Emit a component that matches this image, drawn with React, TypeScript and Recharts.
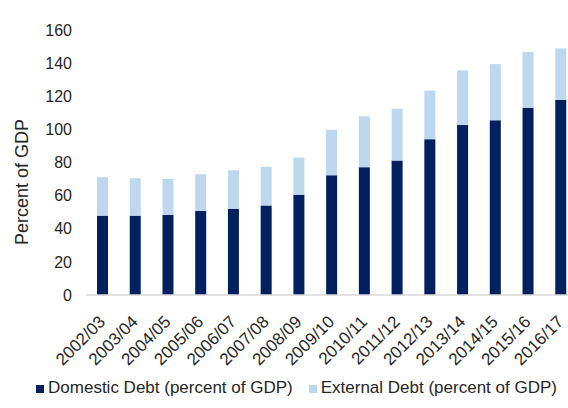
import { Bar, BarChart, Legend, XAxis, YAxis } from 'recharts'

// Debt stock, percent of GDP, by fiscal year.
const years = [
  '2002/03', '2003/04', '2004/05', '2005/06', '2006/07', '2007/08', '2008/09', '2009/10',
  '2010/11', '2011/12', '2012/13', '2013/14', '2014/15', '2015/16', '2016/17',
]
const domestic = [47.9, 47.9, 48.3, 50.7, 52.1, 54.1, 60.6, 72.3, 77.2, 81.2, 94.1, 102.6, 105.5, 113.1, 117.8]
const external = [23.2, 22.6, 21.8, 22.2, 23.2, 23.3, 22.4, 27.5, 30.7, 31.3, 29.3, 33.0, 33.9, 33.6, 31.1]
const yTicks = [0, 20, 40, 60, 80, 100, 120, 140, 160]

const data = years.map((year, i) => ({ year, domestic: domestic[i], external: external[i] }))

const FONT = '"Liberation Sans", Arial, sans-serif'
const NAVY = '#002060'
const LIGHT = '#BDD7EE'
const TEXT = '#262626'

function YearTick({ x, y, payload }: any) {
  const px = x
  const py = y + 16
  return (
    <text
      x={px}
      y={py}
      transform={`rotate(-45, ${px}, ${py})`}
      textAnchor="end"
      dominantBaseline="central"
      fontSize={17}
      fill={TEXT}
      fontFamily={FONT}
    >
      {payload.value}
    </text>
  )
}

function AxisTitle() {
  return (
    <text
      x={22}
      y={182}
      transform="rotate(-90, 22, 182)"
      textAnchor="middle"
      dominantBaseline="central"
      fontSize={18}
      fill={TEXT}
      fontFamily={FONT}
    >
      Percent of GDP
    </text>
  )
}

export default function App() {
  return (
    <div style={{ position: 'fixed', top: 0, left: 0, width: 568, height: 408, overflow: 'hidden', background: '#fff' }}>
      <BarChart
        width={600}
        height={408}
        data={data}
        barSize={11}
        margin={{ top: 30, right: 23, left: 0, bottom: 10 }}
        style={{ fontFamily: FONT }}
      >
        <YAxis
          width={86}
          domain={[0, 160]}
          ticks={yTicks}
          axisLine={false}
          tickLine={false}
          tickMargin={8}
          tick={{ fontSize: 16, fill: TEXT }}
          label={<AxisTitle />}
        />
        <XAxis
          dataKey="year"
          height={83}
          interval={0}
          tickLine={false}
          axisLine={{ stroke: '#d9d9d9', strokeWidth: 1.5 }}
          tick={<YearTick />}
        />
        <Legend
          verticalAlign="bottom"
          iconType="square"
          iconSize={8}
          wrapperStyle={{ fontSize: 17, color: TEXT, paddingLeft: 13 }}
          formatter={(v, _e, i) => (
            <span style={{ color: TEXT, marginRight: i === 0 ? 6 : 0 }}>{v}</span>
          )}
        />
        <Bar dataKey="domestic" name="Domestic Debt (percent of GDP)" stackId="d" fill={NAVY} isAnimationActive={false} />
        <Bar dataKey="external" name="External Debt (percent of GDP)" stackId="d" fill={LIGHT} isAnimationActive={false} />
      </BarChart>
    </div>
  )
}
